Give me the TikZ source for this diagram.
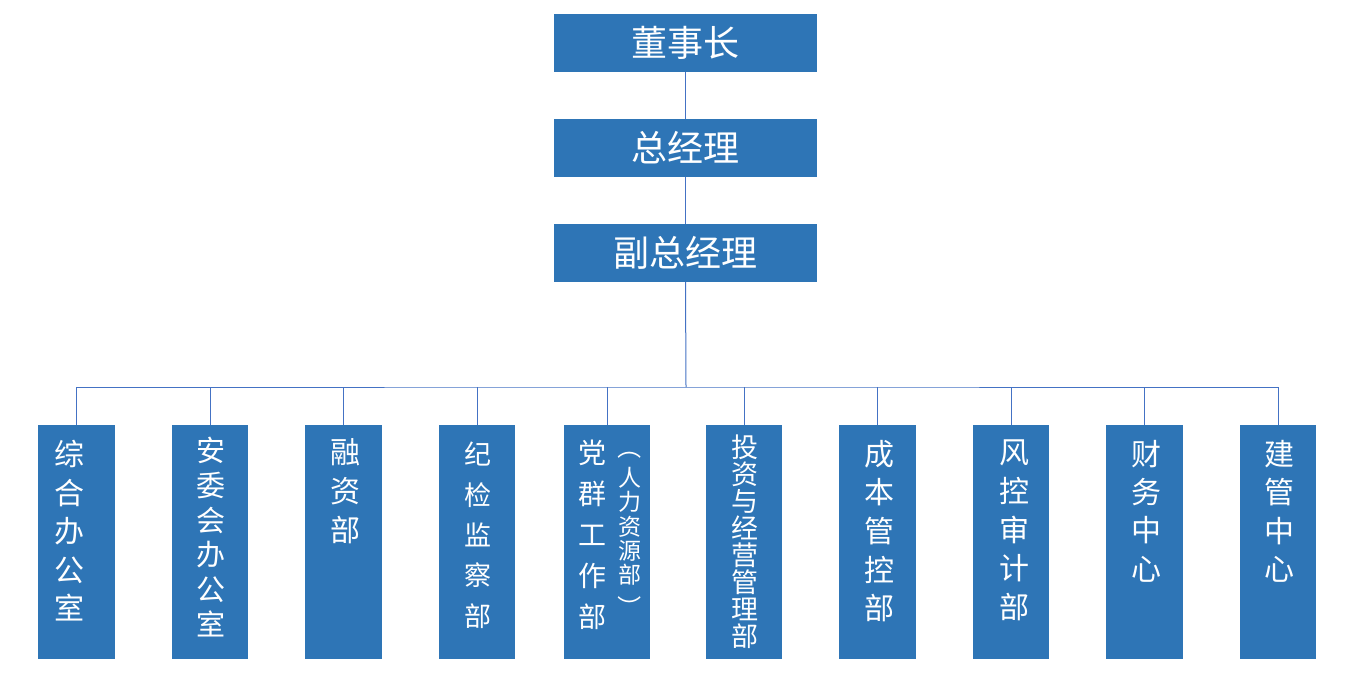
\documentclass[tikz,border=0pt]{standalone}
\usepackage{fontspec}
\newfontfamily\cjk{Noto Sans CJK SC}
\definecolor{boxblue}{RGB}{46,117,182}
\definecolor{lineblue}{RGB}{68,114,196}
\begin{document}
\begin{tikzpicture}[x=1pt,y=-1pt,
  box/.style={fill=boxblue,draw=none,inner sep=0pt,minimum width=263pt,minimum height=58pt},
  dept/.style={fill=boxblue,draw=none,inner sep=0pt,minimum height=234pt},
  toptext/.style={text=white,inner sep=0pt,font=\cjk\fontsize{36}{40}\selectfont},
  vt/.style={text=white,inner sep=0pt,anchor=north,align=center},
  paren/.style={text=white,inner sep=0pt,rotate=-90,font=\cjk\fontsize{24}{26}\selectfont},
  link/.style={draw=lineblue,line width=1pt}]
\useasboundingbox (0,0) rectangle (1362,674);
\fill[white] (0,0) rectangle (1362,674);
% top chain
\node[box] (chair) at (685.5,43) {};
\node[box] (gm) at (685.5,148) {};
\node[box] (vp) at (685.5,253) {};
\node[toptext] (tchair) at (chair.center) {董事长};
\node[toptext] (tgm) at (gm.center) {总经理};
\node[toptext] (tvp) at (vp.center) {副总经理};
% departments
\node[dept,minimum width=77pt] (d1) at (76.5,542) {};
\node[dept,minimum width=76pt] (d2) at (210,542) {};
\node[dept,minimum width=77pt] (d3) at (343.5,542) {};
\node[dept,minimum width=76pt] (d4) at (477,542) {};
\node[dept,minimum width=86pt] (d5) at (607,542) {};
\node[dept,minimum width=76pt] (d6) at (744,542) {};
\node[dept,minimum width=77pt] (d7) at (877.5,542) {};
\node[dept,minimum width=76pt] (d8) at (1011,542) {};
\node[dept,minimum width=77pt] (d9) at (1144.5,542) {};
\node[dept,minimum width=76pt] (d10) at (1278,542) {};
% texts
\node[vt,font=\cjk\fontsize{30}{38.5}\selectfont] (t1) at (69,440) {综\\合\\办\\公\\室};
\node[vt,font=\cjk\fontsize{29}{34.7}\selectfont] (t2) at (211,437) {安\\委\\会\\办\\公\\室};
\node[vt,font=\cjk\fontsize{30}{39}\selectfont] (t3) at (345,438) {融\\资\\部};
\node[vt,font=\cjk\fontsize{27}{40.3}\selectfont] (t4) at (478,442) {纪\\检\\监\\察\\部};
\node[vt,font=\cjk\fontsize{28}{41}\selectfont] (t5a) at (592,440) {党\\群\\工\\作\\部};
\node[paren] (t5o) at (630,447) {（};
\node[vt,font=\cjk\fontsize{23}{24.3}\selectfont] (t5b) at (630,467) {人\\力\\资\\源\\部};
\node[paren] (t5c) at (630,607) {）};
\node[vt,font=\cjk\fontsize{27}{26.9}\selectfont] (t6) at (745,435) {投\\资\\与\\经\\营\\管\\理\\部};
\node[vt,font=\cjk\fontsize{30}{38.6}\selectfont] (t7) at (879,440) {成\\本\\管\\控\\部};
\node[vt,font=\cjk\fontsize{30}{38.6}\selectfont] (t8) at (1014,440) {风\\控\\审\\计\\部};
\node[vt,font=\cjk\fontsize{30}{38.3}\selectfont] (t9) at (1146,440) {财\\务\\中\\心};
\node[vt,font=\cjk\fontsize{30}{38.3}\selectfont] (t10) at (1279,440) {建\\管\\中\\心};
% connectors
\draw[link] (chair.south) -- (gm.north);
\draw[link] (gm.south) -- (vp.north);
\coordinate (bus) at (686,387);
\draw[link] (vp.south) -- (bus);
\draw[link] (d1.north) |- (bus) -| (d10.north);
\foreach \d in {d2,d3,d4,d5,d6,d7,d8,d9}
  \draw[link] (\d.north) -- (\d.north |- bus);
\end{tikzpicture}
\end{document}
